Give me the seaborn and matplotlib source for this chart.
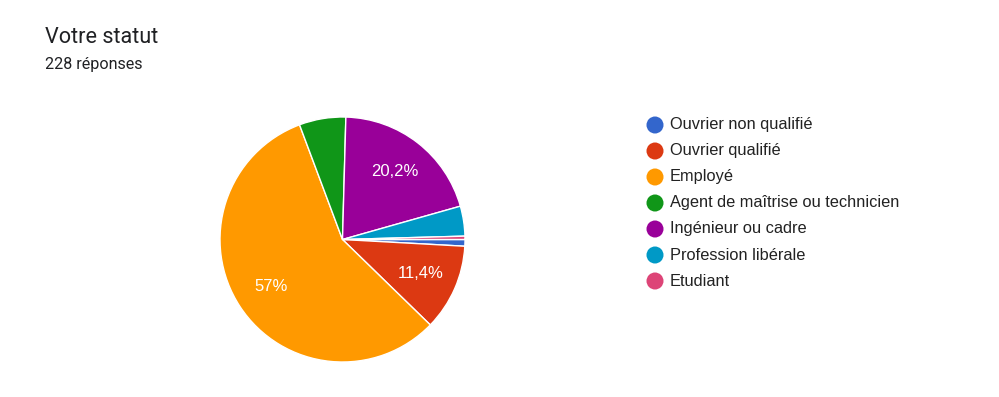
import matplotlib
matplotlib.use("Agg")
import matplotlib.pyplot as plt
import seaborn as sns

categories = ["Ouvrier non qualifié", "Ouvrier qualifié", "Employé",
              "Agent de maîtrise ou technicien", "Ingénieur ou cadre",
              "Profession libérale", "Etudiant"]
counts = [2, 26, 130, 14, 46, 9, 1]
colors = ["#3366cc", "#dc3912", "#ff9900", "#109618", "#990099", "#0099c6", "#dd4477"]
title = "Votre statut"
subtitle = "228 réponses"

sns.set_theme(style="white")
palette = sns.color_palette(colors)
plt.rcParams['font.family'] = ['Liberation Sans', 'DejaVu Sans']

W, H = 999, 397
fig = plt.figure(figsize=(W / 100, H / 100), dpi=100)
fig.patch.set_facecolor("white")

cx, cy, r = 342.5, 239.5, 122.5
ax = fig.add_axes([(cx - r) / W, (H - cy - r) / H, 2 * r / W, 2 * r / H])

def fmt(p):
    if p < 10:
        return ""
    s = f"{p:.1f}".replace(".", ",")
    if s.endswith(",0"):
        s = s[:-2]
    return s + "%"

wedges, texts, autotexts = ax.pie(
    counts, colors=palette, startangle=0, counterclock=False,
    autopct=fmt, pctdistance=0.70,
    wedgeprops=dict(edgecolor="white", linewidth=1.0),
    textprops=dict(color="white", fontsize=12, family=["Liberation Sans", "DejaVu Sans"]),
)
ax.set_xlim(-1, 1)
ax.set_ylim(-1, 1)
ax.set_aspect("equal")
ax.axis("off")

fig.text(45 / W, 1 - 43 / H, title, fontsize=15.6, color="#202124",
         family=["Roboto", "DejaVu Sans"], va="baseline", ha="left")
fig.text(45 / W, 1 - 69 / H, subtitle, fontsize=11.6, color="#202124",
         family=["Roboto", "DejaVu Sans"], va="baseline", ha="left")

# legend
lax = fig.add_axes([0, 0, 1, 1])
lax.set_xlim(0, W)
lax.set_ylim(H, 0)
lax.axis("off")
y0, dy = 125, 26
for i, (lab, col) in enumerate(zip(categories, palette)):
    y = y0 + i * dy
    lax.scatter([655], [y], s=150, color=col, edgecolors="none")
    lax.text(670, y, lab, fontsize=11.8, color="#222222", va="center", ha="left",
             family=["Liberation Sans", "DejaVu Sans"])

fig.savefig("out.png", dpi=100, facecolor="white")
